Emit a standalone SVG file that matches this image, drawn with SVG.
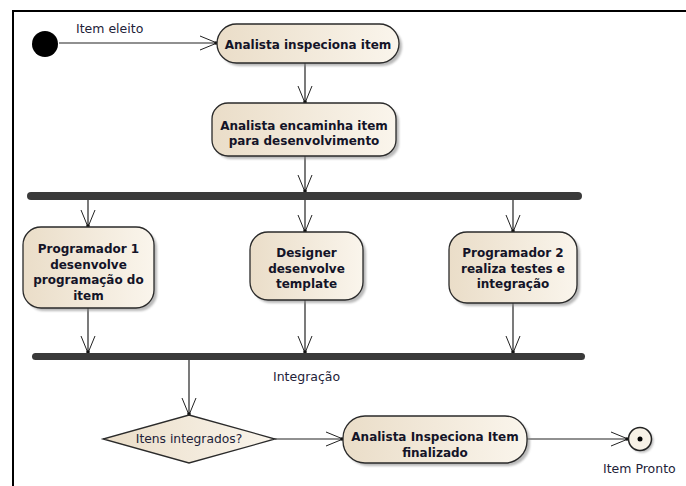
<svg xmlns="http://www.w3.org/2000/svg" width="686" height="486" viewBox="0 0 686 486">
<defs>
<linearGradient id="fillg" x1="0" y1="0" x2="1" y2="0">
<stop offset="0" stop-color="#EADDC8"/>
<stop offset="1" stop-color="#FAF5EC"/>
</linearGradient>
<filter id="sh" x="-10%" y="-10%" width="130%" height="140%">
<feGaussianBlur stdDeviation="1.3"/>
</filter>
<marker id="arr" markerUnits="userSpaceOnUse" viewBox="-18 -9 20 18" refX="0" refY="0" markerWidth="20" markerHeight="18" orient="auto" overflow="visible">
<path d="M-17,-7 L0,0 L-17,7" fill="none" stroke="#222" stroke-width="1"/>
<circle cx="-1" cy="0" r="1.8" fill="#111"/>
</marker>
</defs>
<style>
.node{fill:url(#fillg);stroke:#2a2a2a;stroke-width:1.3}
.shadow{fill:#8a8a8a;opacity:.6;filter:url(#sh)}
.t{font-family:"DejaVu Sans",sans-serif;font-weight:bold;font-size:12px;fill:#141428;text-anchor:middle}
.lbl{font-family:"DejaVu Sans",sans-serif;font-size:12.5px;fill:#222238}
.c{fill:none;stroke:#222;stroke-width:1.2;marker-end:url(#arr)}
.bar{fill:#3a3a3a}
.frame{stroke:#000;stroke-width:2;fill:none}
</style>
<rect width="686" height="486" fill="#fff"/>
<path class="frame" d="M13,486 L13,11 L686,11"/>

<g id="connectors">
<line class="c" x1="59" y1="43" x2="217" y2="43"/>
<line class="c" x1="305" y1="63" x2="305" y2="103"/>
<line class="c" x1="305" y1="156" x2="305" y2="192"/>
<line class="c" x1="88" y1="200" x2="88" y2="227"/>
<line class="c" x1="305" y1="200" x2="305" y2="232"/>
<line class="c" x1="513" y1="200" x2="513" y2="232"/>
<line class="c" x1="88" y1="308" x2="88" y2="353"/>
<line class="c" x1="305" y1="300" x2="305" y2="353"/>
<line class="c" x1="513" y1="303" x2="513" y2="353"/>
<line class="c" x1="189" y1="360" x2="189" y2="415"/>
<line class="c" x1="275" y1="439" x2="343" y2="439"/>
<line class="c" x1="527" y1="439" x2="628" y2="439"/>
<text class="lbl" x="76" y="33">Item eleito</text>
<text class="lbl" x="273" y="381">Integração</text>
</g>

<g id="start">
<circle cx="45" cy="44" r="13" fill="#000"/>
</g>

<g id="n1">
<rect class="shadow" x="220" y="27" width="182" height="39" rx="19.5"/>
<rect class="node" x="217" y="24" width="182" height="39" rx="19.5"/>
<text class="t" x="308" y="49">Analista inspeciona item</text>
</g>

<g id="n2">
<rect class="shadow" x="215" y="106" width="184" height="53" rx="16"/>
<rect class="node" x="212" y="103" width="184" height="53" rx="16"/>
<text class="t" x="304" y="130">Analista encaminha item</text>
<text class="t" x="304" y="145">para desenvolvimento</text>
</g>

<g id="fork">
<rect class="bar" x="27" y="192" width="555" height="8" rx="4"/>
</g>

<g id="p1">
<rect class="shadow" x="26" y="230" width="131" height="81" rx="18"/>
<rect class="node" x="23" y="227" width="131" height="81" rx="18"/>
<text class="t" x="88.5" y="253">Programador 1</text>
<text class="t" x="88.5" y="268.5">desenvolve</text>
<text class="t" x="88.5" y="284">programação do</text>
<text class="t" x="88.5" y="299.5">item</text>
</g>

<g id="designer">
<rect class="shadow" x="253" y="235" width="113" height="68" rx="18"/>
<rect class="node" x="250" y="232" width="113" height="68" rx="18"/>
<text class="t" x="306.5" y="257">Designer</text>
<text class="t" x="306.5" y="272.5">desenvolve</text>
<text class="t" x="306.5" y="288">template</text>
</g>

<g id="p2">
<rect class="shadow" x="452" y="235" width="128" height="71" rx="18"/>
<rect class="node" x="449" y="232" width="128" height="71" rx="18"/>
<text class="t" x="513" y="257">Programador 2</text>
<text class="t" x="513" y="272.5">realiza testes e</text>
<text class="t" x="513" y="288">integração</text>
</g>

<g id="join">
<rect class="bar" x="32" y="353" width="553" height="7" rx="3.5"/>
</g>

<g id="decision">
<polygon class="node" points="189,415 275,439 189,463 103,439"/>
<text class="lbl" x="189" y="443" text-anchor="middle" style="font-size:12.3px">Itens integrados?</text>
</g>

<g id="n3">
<rect class="shadow" x="346" y="419" width="184" height="47" rx="22"/>
<rect class="node" x="343" y="416" width="184" height="47" rx="22"/>
<text class="t" x="435" y="441">Analista Inspeciona Item</text>
<text class="t" x="435" y="457">finalizado</text>
</g>

<g id="end">
<circle class="shadow" cx="642" cy="441" r="11.5"/>
<circle cx="640" cy="439" r="11.5" fill="#F7F1E6" stroke="#222" stroke-width="1.5"/>
<circle cx="640" cy="439" r="2.5" fill="#000"/>
<text class="lbl" x="603" y="473">Item Pronto</text>
</g>
</svg>
